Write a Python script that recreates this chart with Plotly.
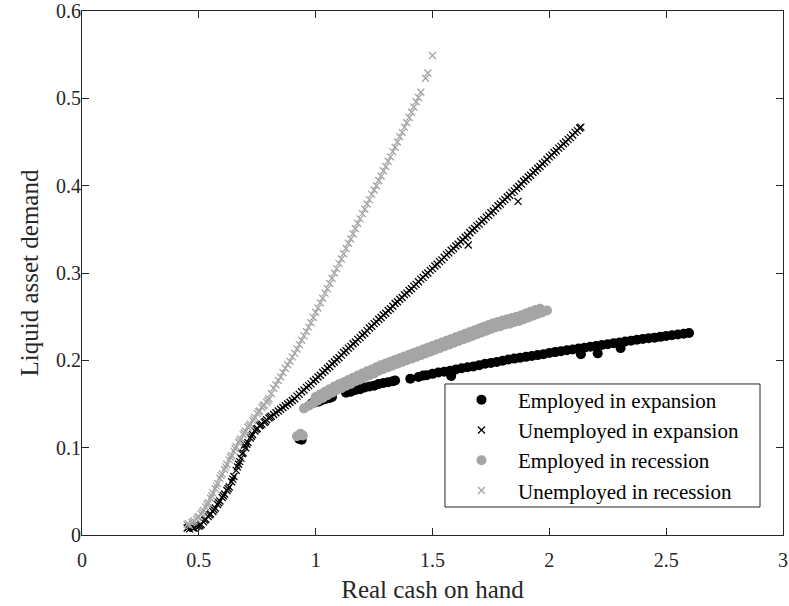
import plotly.graph_objects as go

# ---- Data ----
emp_exp_x = [0.93, 0.94, 0.985, 1.00, 1.015, 1.03, 1.045, 1.06, 1.07,
             1.13, 1.15, 1.17, 1.19, 1.21, 1.23, 1.25, 1.27, 1.29, 1.31, 1.33, 1.34,
             1.405,
             1.44, 1.46, 1.475, 1.50, 1.525, 1.55, 1.575, 1.58,
             1.60, 1.625, 1.65, 1.675, 1.70, 1.725, 1.75, 1.775, 1.80, 1.825, 1.85, 1.875,
             1.90, 1.925, 1.95, 1.975, 2.00, 2.025, 2.05, 2.075, 2.10, 2.125, 2.135,
             2.15, 2.175, 2.20, 2.207,
             2.225, 2.25, 2.275, 2.30, 2.305,
             2.325, 2.35, 2.375, 2.40, 2.425, 2.45, 2.475, 2.50, 2.525, 2.55, 2.575, 2.598]
emp_exp_y = [0.110, 0.109, 0.151, 0.152, 0.153, 0.155, 0.156, 0.157, 0.158,
             0.163, 0.164, 0.166, 0.167, 0.169, 0.170, 0.171, 0.173, 0.174, 0.175, 0.176, 0.177,
             0.179,
             0.181, 0.1825, 0.183, 0.1845, 0.186, 0.187, 0.188, 0.182,
             0.1895, 0.191, 0.192, 0.193, 0.1945, 0.196, 0.197, 0.198, 0.1995, 0.201, 0.202, 0.203,
             0.204, 0.205, 0.206, 0.207, 0.2083, 0.2094, 0.2105, 0.2115, 0.2125, 0.2135, 0.207,
             0.2145, 0.2155, 0.2165, 0.208,
             0.2175, 0.2185, 0.2195, 0.2205, 0.214,
             0.2215, 0.2225, 0.2235, 0.2245, 0.2252, 0.226, 0.2269, 0.2278, 0.2287, 0.2295, 0.2304, 0.2313]

unemp_exp_x = [0.45, 0.46, 0.47, 0.48, 0.49, 0.50, 0.51, 0.52, 0.53, 0.54, 0.55, 0.56, 0.57, 0.58,
               0.59, 0.60, 0.61, 0.62, 0.63, 0.64, 0.65, 0.66, 0.67, 0.68, 0.69, 0.695, 0.70, 0.71,
               0.72, 0.73, 0.74, 0.75, 0.76, 0.77, 0.78, 0.79, 0.80, 0.81, 0.82, 0.83, 0.84, 0.85,
               0.86, 0.87, 0.88, 0.89, 0.90, 0.91, 0.92, 0.93, 0.94, 0.95, 0.96, 0.97, 0.98, 0.99,
               0.455, 0.475, 0.505, 0.525, 0.545, 0.565, 0.585, 0.605, 0.625, 0.645, 0.665, 0.675,
               0.685, 0.705, 0.725, 0.745, 0.765, 0.785, 0.805,
               1.00, 1.01, 1.02, 1.03, 1.04, 1.05, 1.06, 1.07, 1.08, 1.09, 1.10, 1.11, 1.12, 1.13,
               1.14, 1.15, 1.16, 1.17, 1.18, 1.19, 1.20, 1.21, 1.22, 1.23, 1.24, 1.25, 1.26, 1.27,
               1.28, 1.29, 1.30, 1.31, 1.32, 1.33, 1.34, 1.35, 1.36, 1.37, 1.38, 1.39, 1.40, 1.41,
               1.42, 1.43, 1.44, 1.45, 1.46, 1.47, 1.48, 1.49, 1.50, 1.51, 1.52, 1.53, 1.54, 1.55,
               1.56, 1.57, 1.58, 1.59, 1.60, 1.61, 1.62, 1.63, 1.64, 1.65, 1.66, 1.67, 1.68, 1.69,
               1.70, 1.71, 1.72, 1.73, 1.74, 1.75, 1.76, 1.77, 1.78, 1.79, 1.80, 1.81, 1.82, 1.83,
               1.84, 1.85, 1.86, 1.87, 1.88, 1.89, 1.90, 1.91, 1.92, 1.93, 1.94, 1.95, 1.96, 1.97,
               1.98, 1.99, 2.00, 2.01, 2.02, 2.03, 2.04, 2.05, 2.06, 2.07, 2.08, 2.09, 2.10, 2.11,
               2.12, 2.13, 2.135, 1.653, 1.866]
unemp_exp_y = [0.008, 0.007, 0.009, 0.008, 0.010, 0.010, 0.012, 0.015, 0.018, 0.021, 0.024, 0.027, 0.031, 0.035,
               0.039, 0.043, 0.047, 0.051, 0.055, 0.061, 0.067, 0.074, 0.081, 0.088, 0.094, 0.103, 0.100, 0.106,
               0.111, 0.115, 0.119, 0.122, 0.125, 0.127, 0.129, 0.132, 0.134, 0.136, 0.138, 0.140, 0.142, 0.144,
               0.146, 0.148, 0.150, 0.152, 0.154, 0.156, 0.159, 0.161, 0.164, 0.166, 0.169, 0.171, 0.173, 0.176,
               0.009, 0.008, 0.011, 0.017, 0.023, 0.029, 0.037, 0.045, 0.053, 0.064, 0.078, 0.084,
               0.093, 0.104, 0.113, 0.121, 0.126, 0.130, 0.135,
               0.178, 0.181, 0.183, 0.186, 0.188, 0.191, 0.193, 0.196, 0.198, 0.201, 0.203, 0.206, 0.209, 0.211,
               0.214, 0.216, 0.219, 0.221, 0.224, 0.226, 0.229, 0.231, 0.234, 0.237, 0.239, 0.242, 0.244, 0.247,
               0.249, 0.252, 0.254, 0.257, 0.259, 0.262, 0.265, 0.267, 0.270, 0.272, 0.275, 0.277, 0.280, 0.282,
               0.285, 0.287, 0.290, 0.293, 0.295, 0.298, 0.300, 0.303, 0.305, 0.308, 0.310, 0.313, 0.315, 0.318,
               0.321, 0.323, 0.326, 0.328, 0.331, 0.333, 0.336, 0.338, 0.341, 0.343, 0.346, 0.349, 0.351, 0.354,
               0.356, 0.359, 0.361, 0.364, 0.366, 0.369, 0.371, 0.374, 0.377, 0.379, 0.382, 0.384, 0.387, 0.389,
               0.392, 0.394, 0.397, 0.399, 0.402, 0.405, 0.407, 0.410, 0.412, 0.415, 0.417, 0.420, 0.422, 0.425,
               0.427, 0.430, 0.433, 0.435, 0.438, 0.440, 0.443, 0.445, 0.448, 0.450, 0.453, 0.455, 0.458, 0.461,
               0.463, 0.466, 0.467, 0.332, 0.382]

emp_rec_x = [0.92, 0.935, 0.945, 0.95, 0.97, 0.99, 1.01, 1.03, 1.05, 1.07, 1.09, 1.11, 1.13, 1.15,
             1.17, 1.19, 1.21, 1.23, 1.25, 1.27, 1.29, 1.31, 1.33, 1.35, 1.37, 1.39, 1.41, 1.43,
             1.45, 1.47, 1.49, 1.51, 1.53, 1.55, 1.57, 1.59, 1.61, 1.63, 1.65, 1.67, 1.69, 1.71,
             1.73, 1.75, 1.77, 1.79, 1.81, 1.83, 1.85, 1.87, 1.89, 1.91, 1.93, 1.95, 1.97, 1.99,
             1.00, 1.02, 1.04, 1.06, 1.08, 1.10, 1.12, 1.14, 1.16, 1.18, 1.20, 1.22, 1.24, 1.26,
             1.28, 1.30, 1.32, 1.34, 1.36, 1.38, 1.40, 1.42, 1.44, 1.46, 1.48, 1.50, 1.52, 1.54,
             1.56, 1.58, 1.60, 1.62, 1.64, 1.66, 1.68, 1.70, 1.72, 1.74, 1.76, 1.78, 1.80, 1.82,
             1.84, 1.86, 1.88, 1.90, 1.92, 1.94, 1.96]
emp_rec_y = [0.113, 0.116, 0.114, 0.145, 0.148, 0.151, 0.154, 0.157, 0.160, 0.163, 0.166, 0.168, 0.171, 0.173,
             0.176, 0.178, 0.181, 0.183, 0.185, 0.188, 0.190, 0.192, 0.194, 0.196, 0.198, 0.200, 0.202, 0.204,
             0.206, 0.208, 0.210, 0.212, 0.214, 0.216, 0.218, 0.220, 0.222, 0.224, 0.226, 0.228, 0.230, 0.232,
             0.234, 0.236, 0.238, 0.239, 0.241, 0.242, 0.244, 0.245, 0.247, 0.249, 0.251, 0.253, 0.255, 0.257,
             0.158, 0.161, 0.164, 0.167, 0.170, 0.1725, 0.175, 0.1775, 0.180, 0.1825, 0.185, 0.1875, 0.1895, 0.192,
             0.1945, 0.1965, 0.1985, 0.2005, 0.2025, 0.2045, 0.2065, 0.2085, 0.2105, 0.2125, 0.2145, 0.2165, 0.2185, 0.2205,
             0.2225, 0.2245, 0.2265, 0.2285, 0.2305, 0.2325, 0.2345, 0.2365, 0.2385, 0.2405, 0.2425, 0.244, 0.2455, 0.247,
             0.2485, 0.250, 0.2515, 0.2535, 0.2555, 0.2575, 0.259]

unemp_rec_x = [0.45, 0.46, 0.47, 0.48, 0.49, 0.50, 0.51, 0.52, 0.53, 0.54, 0.55, 0.56, 0.57, 0.58,
               0.59, 0.60, 0.61, 0.62, 0.63, 0.64, 0.65, 0.66, 0.67, 0.68, 0.69, 0.70, 0.71, 0.72,
               0.73, 0.74, 0.75, 0.76, 0.77, 0.78, 0.79,
               0.455, 0.475, 0.495, 0.515, 0.535, 0.555, 0.575, 0.595, 0.615, 0.635, 0.655, 0.675,
               0.695, 0.715, 0.735, 0.755, 0.775, 0.795,
               0.80, 0.81, 0.82, 0.83, 0.84, 0.85, 0.86, 0.87, 0.88, 0.89, 0.90, 0.91, 0.92, 0.93,
               0.94, 0.95, 0.96, 0.97, 0.98, 0.99, 1.00, 1.01, 1.02, 1.03, 1.04, 1.05, 1.06, 1.07,
               1.08, 1.09, 1.10, 1.11, 1.12, 1.13, 1.14, 1.15, 1.16, 1.17, 1.18, 1.19, 1.20, 1.21,
               1.22, 1.23, 1.24, 1.25, 1.26, 1.27, 1.28, 1.29, 1.30, 1.31, 1.32, 1.33, 1.34, 1.35,
               1.36, 1.37, 1.38, 1.39, 1.40, 1.41, 1.42, 1.43, 1.44, 1.45, 1.47, 1.48, 1.50]
unemp_rec_y = [0.012, 0.011, 0.014, 0.016, 0.018, 0.021, 0.024, 0.028, 0.032, 0.037, 0.042, 0.048, 0.053, 0.059,
               0.065, 0.070, 0.075, 0.081, 0.086, 0.091, 0.096, 0.101, 0.106, 0.110, 0.115, 0.119, 0.123, 0.127,
               0.131, 0.135, 0.139, 0.142, 0.146, 0.149, 0.152,
               0.013, 0.015, 0.020, 0.026, 0.035, 0.045, 0.056, 0.068, 0.078, 0.089, 0.099, 0.108,
               0.117, 0.125, 0.133, 0.141, 0.148, 0.154,
               0.156, 0.162, 0.168, 0.172, 0.177, 0.181, 0.186, 0.191, 0.195, 0.199, 0.204, 0.208, 0.213, 0.218,
               0.223, 0.228, 0.233, 0.238, 0.243, 0.249, 0.255, 0.260, 0.266, 0.271, 0.277, 0.282, 0.288, 0.294,
               0.300, 0.305, 0.311, 0.316, 0.322, 0.328, 0.334, 0.339, 0.345, 0.351, 0.357, 0.362, 0.368, 0.373,
               0.379, 0.384, 0.390, 0.395, 0.400, 0.406, 0.411, 0.417, 0.422, 0.428, 0.433, 0.439, 0.444, 0.450,
               0.456, 0.461, 0.467, 0.472, 0.478, 0.484, 0.490, 0.496, 0.501, 0.507, 0.523, 0.529, 0.549]

series_names = ["Employed in expansion", "Unemployed in expansion",
                "Employed in recession", "Unemployed in recession"]

FONT = "Liberation Serif, Times New Roman, serif"
BLACK = "#000000"
GRAY = "#a5a5a5"
AX = "#262626"

fig = go.Figure()
fig.add_trace(go.Scatter(x=emp_exp_x, y=emp_exp_y, mode="markers", name=series_names[0],
                         legendgroup="a",
                         marker=dict(symbol="circle", size=10, color=BLACK, line=dict(width=0))))
fig.add_trace(go.Scatter(x=unemp_exp_x, y=unemp_exp_y, mode="markers", name=series_names[1],
                         legendgroup="b",
                         marker=dict(symbol="x-thin", size=7, color=BLACK, line=dict(width=1.3, color=BLACK))))
fig.add_trace(go.Scatter(x=emp_rec_x, y=emp_rec_y, mode="markers", name=series_names[2],
                         legendgroup="c",
                         marker=dict(symbol="circle", size=10, color=GRAY, line=dict(width=0))))
fig.add_trace(go.Scatter(x=unemp_rec_x, y=unemp_rec_y, mode="markers", name=series_names[3],
                         legendgroup="d",
                         marker=dict(symbol="x-thin", size=7, color=GRAY, line=dict(width=1.3, color=GRAY))))

axis_common = dict(showline=True, linecolor=AX, linewidth=1, mirror="ticks",
                   ticks="inside", ticklen=7, tickcolor=AX, tickwidth=1,
                   showgrid=False, zeroline=False,
                   tickfont=dict(family=FONT, size=20, color=AX))

fig.update_xaxes(range=[0, 3], dtick=0.5, tick0=0, ticklabelstandoff=7,
                 title=dict(text="Real cash on hand", font=dict(family=FONT, size=25, color=AX), standoff=10),
                 **axis_common)
fig.update_yaxes(range=[0, 0.6], dtick=0.1, tick0=0, ticklabelstandoff=-4,
                 title=dict(text="Liquid asset demand", font=dict(family=FONT, size=25, color=AX), standoff=10),
                 **axis_common)

# legend frame (opaque white box like the reference)
fig.add_shape(type="rect", xref="paper", yref="paper",
              x0=0.5178, x1=0.9672, y0=0.0534, y1=0.2882,
              line=dict(color=AX, width=1), fillcolor="white", layer="above")

fig.update_layout(
    width=789, height=606,
    margin=dict(l=82, r=6, t=11, b=71, autoexpand=False),
    paper_bgcolor="white", plot_bgcolor="white",
    font=dict(family=FONT, color=AX),
    legend=dict(x=0.5178, y=0.2968, xanchor="left", yanchor="top",
                bgcolor="rgba(0,0,0,0)", borderwidth=0,
                font=dict(family=FONT, size=21, color=BLACK),
                itemwidth=63, tracegroupgap=3, traceorder="normal"),
    showlegend=True,
)

fig.write_html("out.html")
